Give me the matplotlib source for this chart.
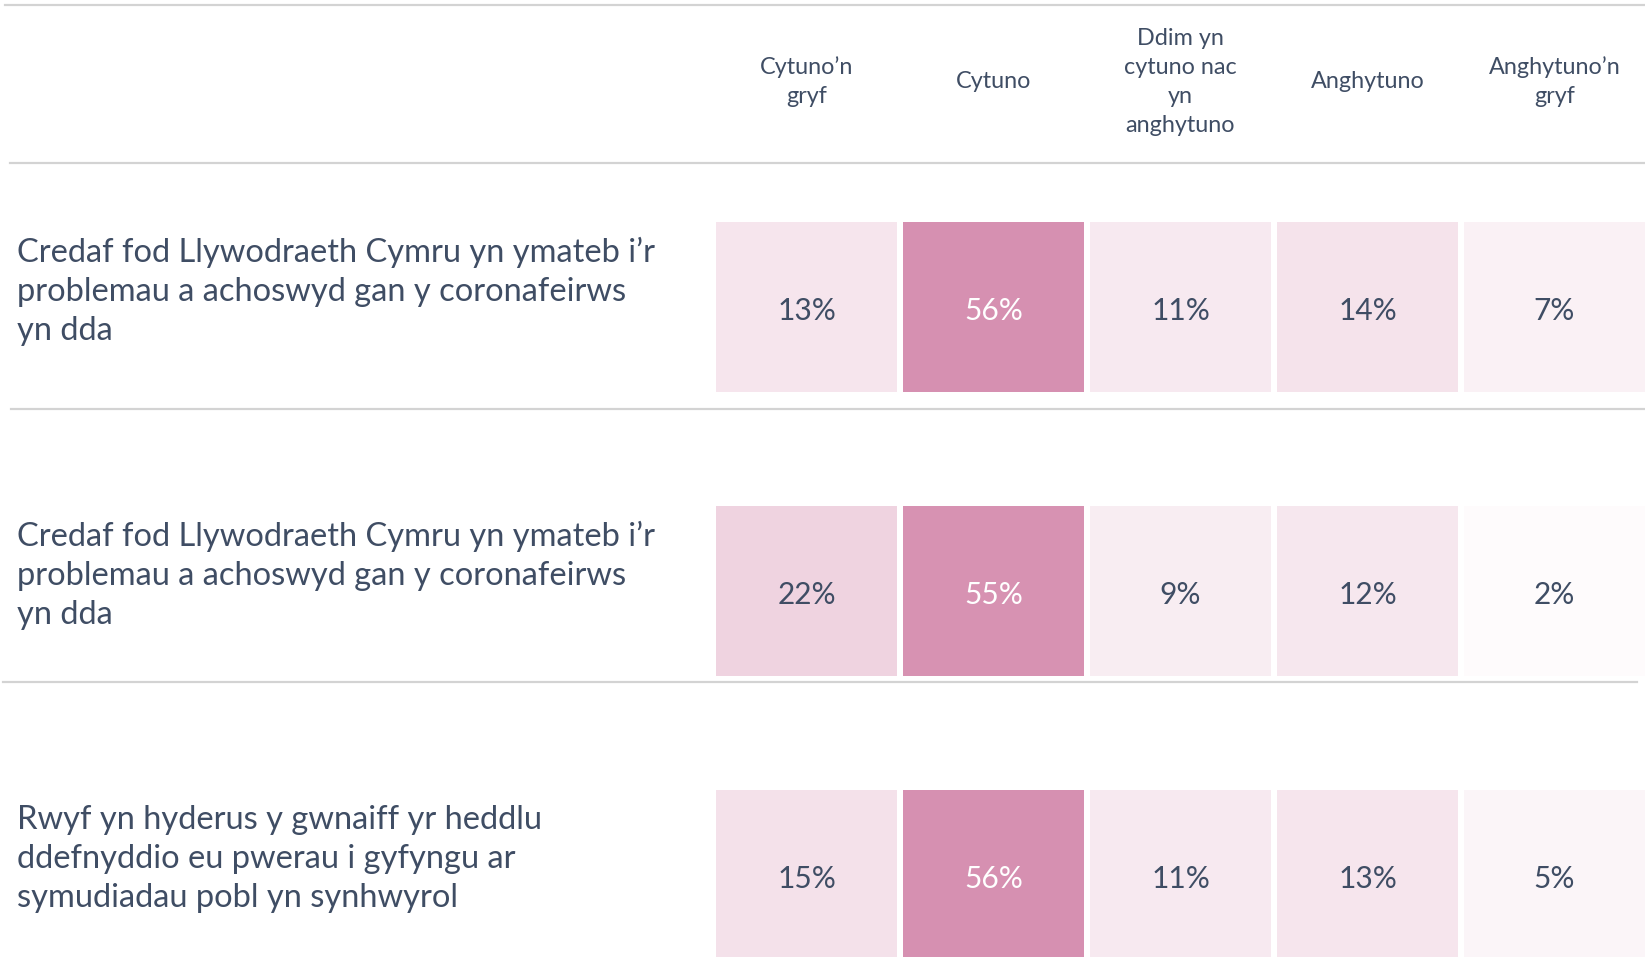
import matplotlib
matplotlib.use("Agg")
import matplotlib.pyplot as plt
from matplotlib.colors import LinearSegmentedColormap, Normalize
from matplotlib.lines import Line2D

# ---------------- data ----------------
columns = ["Cytuno’n\ngryf", "Cytuno", "Ddim yn\ncytuno nac\nyn\nanghytuno", "Anghytuno", "Anghytuno’n\ngryf"]
statements = [
    "Credaf fod Llywodraeth Cymru yn ymateb i’r\nproblemau a achoswyd gan y coronafeirws\nyn dda",
    "Credaf fod Llywodraeth Cymru yn ymateb i’r\nproblemau a achoswyd gan y coronafeirws\nyn dda",
    "Rwyf yn hyderus y gwnaiff yr heddlu\nddefnyddio eu pwerau i gyfyngu ar\nsymudiadau pobl yn synhwyrol",
]
row1 = [13, 56, 11, 14, 7]
row2 = [22, 55, 9, 12, 2]
row3 = [15, 56, 11, 13, 5]
rows = [row1, row2, row3]

# ---------------- style ----------------
W, H = 1645, 957
TXT = "#3F4D64"
LINE = "#D3D3D3"
FONT = ["Lato", "DejaVu Sans"]
cmap = LinearSegmentedColormap.from_list("pink", ["#FFFFFF", "#D690B1"])
norm = Normalize(vmin=0, vmax=56)

fig = plt.figure(figsize=(W / 100, H / 100), dpi=100)
fig.patch.set_facecolor("white")

def fx(px):
    return px / W

def fy(py):
    return 1 - py / H

# horizontal separator lines
for y, x0, x1 in [(5, 5, 1645), (163, 10, 1645), (409, 11, 1645), (682, 3, 1637)]:
    fig.add_artist(Line2D([fx(x0), fx(x1)], [fy(y), fy(y)], color=LINE, lw=1.6,
                          transform=fig.transFigure))

# column geometry
ax_left, ax_right = 713, 1648
row_tops = [222, 506, 790]
row_h = 170

# header labels
hdr_ax = fig.add_axes([fx(ax_left), fy(163), fx(ax_right - ax_left), fy(0) - fy(163)])
hdr_ax.set_xlim(-0.5, len(columns) - 0.5)
hdr_ax.set_ylim(163, 0)
hdr_ax.axis("off")
for i, c in enumerate(columns):
    hdr_ax.text(i, 82, c, ha="center", va="center", fontsize=16.8, color=TXT,
                family=FONT, linespacing=1.47)

for r, (vals, label, top) in enumerate(zip(rows, statements, row_tops)):
    ax = fig.add_axes([fx(ax_left), fy(top + row_h), fx(ax_right - ax_left), fy(top) - fy(top + row_h)])
    xs = list(range(len(vals)))
    ax.bar(xs, [1] * len(vals), width=0.968, bottom=0,
           color=[cmap(norm(v)) for v in vals], align="center")
    for x, v in zip(xs, vals):
        ax.text(x, 0.475, f"{v}%", ha="center", va="center", fontsize=21.5,
                color="white" if v > 40 else TXT, family=FONT)
    ax.set_xlim(-0.5, len(vals) - 0.5)
    ax.set_ylim(0, 1)
    ax.axis("off")
    # statement label
    fig.text(fx(17), fy(top + row_h / 2 - 16), label, ha="left", va="center",
             fontsize=23.5, color=TXT, family=FONT, linespacing=1.38)

fig.savefig("out.png", dpi=100, facecolor="white")
